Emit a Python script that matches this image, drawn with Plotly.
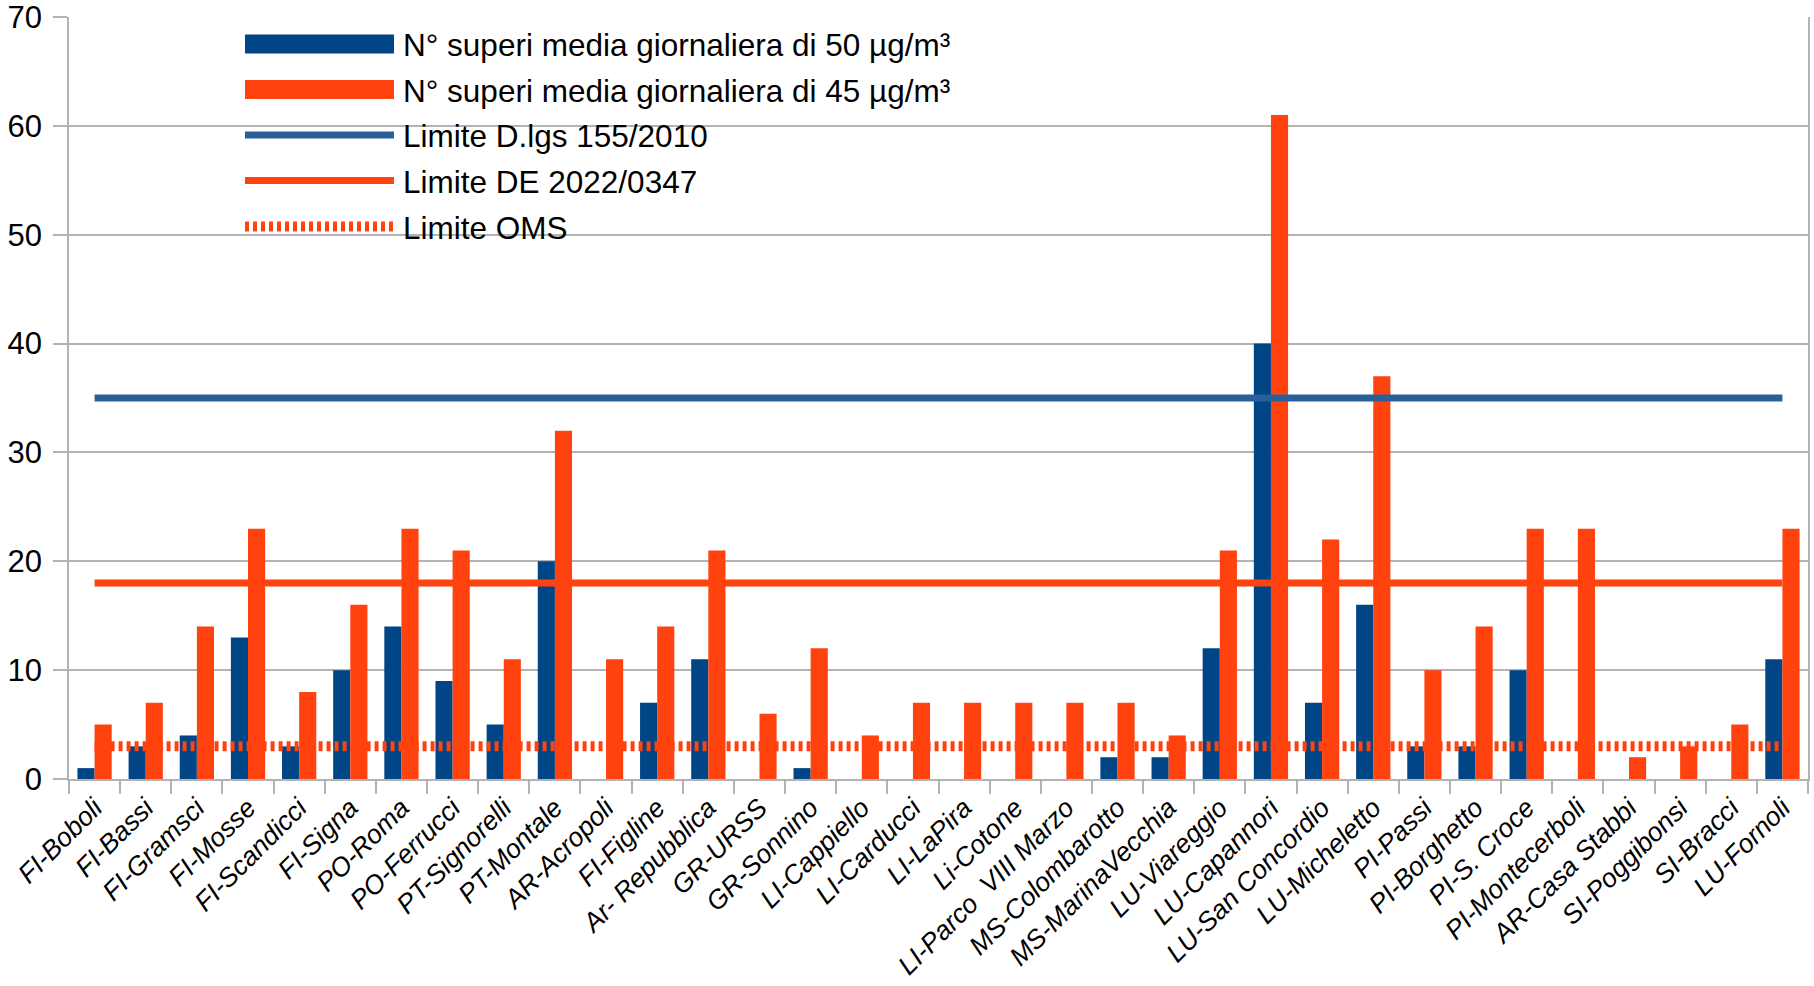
import plotly.graph_objects as go

# Stations (x categories)
stazioni = [
    "FI-Boboli", "FI-Bassi", "FI-Gramsci", "FI-Mosse", "FI-Scandicci", "FI-Signa",
    "PO-Roma", "PO-Ferrucci", "PT-Signorelli", "PT-Montale", "AR-Acropoli",
    "FI-Figline", "Ar- Repubblica", "GR-URSS", "GR-Sonnino", "LI-Cappiello",
    "LI-Carducci", "LI-LaPira", "Li-Cotone", "LI-Parco  VIII Marzo",
    "MS-Colombarotto", "MS-MarinaVecchia", "LU-Viareggio", "LU-Capannori",
    "LU-San Concordio", "LU-Micheletto", "PI-Passi", "PI-Borghetto", "PI-S. Croce",
    "PI-Montecerboli", "AR-Casa Stabbi", "SI-Poggibonsi", "SI-Bracci", "LU-Fornoli",
]

# Number of days above the daily mean thresholds
superi_50 = [1, 3, 4, 13, 3, 10, 14, 9, 5, 20, 0, 7, 11, 0, 1, 0, 0, 0, 0, 0,
             2, 2, 12, 40, 7, 16, 3, 3, 10, 0, 0, 0, 0, 11]
superi_45 = [5, 7, 14, 23, 8, 16, 23, 21, 11, 32, 11, 14, 21, 6, 12, 4, 7, 7, 7, 7,
             7, 4, 21, 61, 22, 37, 10, 14, 23, 23, 2, 3, 5, 23]

# Regulatory limits (allowed days)
limite_dlgs = 35
limite_de = 18
limite_oms = 3

nomi = [
    "N° superi media giornaliera di 50 µg/m³",
    "N° superi media giornaliera di 45 µg/m³",
    "Limite D.lgs 155/2010",
    "Limite DE 2022/0347",
    "Limite OMS",
]

y_ticks = [0, 10, 20, 30, 40, 50, 60, 70]

BLU = "#004586"
ARANCIO = "#ff420e"
BLU_LINEA = "#2a6099"
GRIGIO = "#b3b3b3"
FONT = "Liberation Sans"

W, H = 1814, 986
L, R, T, B = 69, 1808, 17, 779

fig = go.Figure()
fig.add_trace(go.Bar(x=stazioni, y=superi_50, name=nomi[0],
                     marker=dict(color=BLU, line=dict(width=0))))
fig.add_trace(go.Bar(x=stazioni, y=superi_45, name=nomi[1],
                     marker=dict(color=ARANCIO, line=dict(width=0))))
fig.add_trace(go.Scatter(x=stazioni, y=[limite_dlgs] * len(stazioni), name=nomi[2],
                         mode="lines", line=dict(color=BLU_LINEA, width=7)))
fig.add_trace(go.Scatter(x=stazioni, y=[limite_de] * len(stazioni), name=nomi[3],
                         mode="lines", line=dict(color=ARANCIO, width=7)))
fig.add_trace(go.Scatter(x=stazioni, y=[limite_oms] * len(stazioni), name=nomi[4],
                         mode="lines", line=dict(color=ARANCIO, width=10, dash="4px,4px")))


def fx(px):
    return (px - L) / (R - L)


def fy(py):
    return (B - py) / (B - T)


# Legend drawn inside the plot area with long swatches
righe = [44, 89.5, 135, 180.5, 226.5]
sx0, sx1 = 245, 394
shapes = []
annotations = []
stili = [
    ("bar", BLU, None), ("bar", ARANCIO, None),
    ("line", BLU_LINEA, "solid"), ("line", ARANCIO, "solid"), ("line", ARANCIO, "4px,4px"),
]
for (tipo, col, dash), yc, nome in zip(stili, righe, nomi):
    if tipo == "bar":
        shapes.append(dict(type="rect", xref="paper", yref="paper",
                           x0=fx(sx0), x1=fx(sx1), y0=fy(yc + 9.5), y1=fy(yc - 9.5),
                           fillcolor=col, line=dict(width=0), layer="above"))
    else:
        shapes.append(dict(type="line", xref="paper", yref="paper",
                           x0=fx(sx0), x1=fx(sx1), y0=fy(yc), y1=fy(yc),
                           line=dict(color=col, width=10 if dash != "solid" else 7,
                                     dash=dash), layer="above"))
    annotations.append(dict(xref="paper", yref="paper", x=fx(401), y=fy(yc + 1),
                            xanchor="left", yanchor="middle", showarrow=False,
                            text=nome, font=dict(family=FONT, size=31.5, color="#000000")))

fig.update_layout(
    width=W, height=H,
    margin=dict(l=L, r=W - R, t=T, b=H - B, pad=0, autoexpand=False),
    paper_bgcolor="white", plot_bgcolor="white",
    barmode="group", bargap=0.33, bargroupgap=0,
    showlegend=False,
    shapes=shapes, annotations=annotations,
    font=dict(family=FONT, color="#000000"),
)
fig.update_xaxes(
    type="category", tickangle=-45, tickson="boundaries", automargin=False,
    ticks="outside", ticklen=13, tickwidth=1.5, tickcolor=GRIGIO,
    showline=True, linecolor=GRIGIO, linewidth=1.5,
    showgrid=False, ticklabelstandoff=1, ticklabeloverflow="allow",
    tickfont=dict(family=FONT, size=26.5, style="italic", color="#000000"),
)
fig.update_yaxes(
    range=[0, 70], tickvals=y_ticks, ticktext=[str(v) for v in y_ticks],
    automargin=False, ticklabeloverflow="allow",
    ticks="outside", ticklen=14, tickwidth=1.5, tickcolor=GRIGIO,
    showline=True, linecolor=GRIGIO, linewidth=1.5, mirror=True,
    showgrid=True, gridcolor=GRIGIO, gridwidth=1.5, zeroline=False,
    ticklabelstandoff=5,
    tickfont=dict(family=FONT, size=31, color="#000000"),
)

fig.write_html("out.html")
